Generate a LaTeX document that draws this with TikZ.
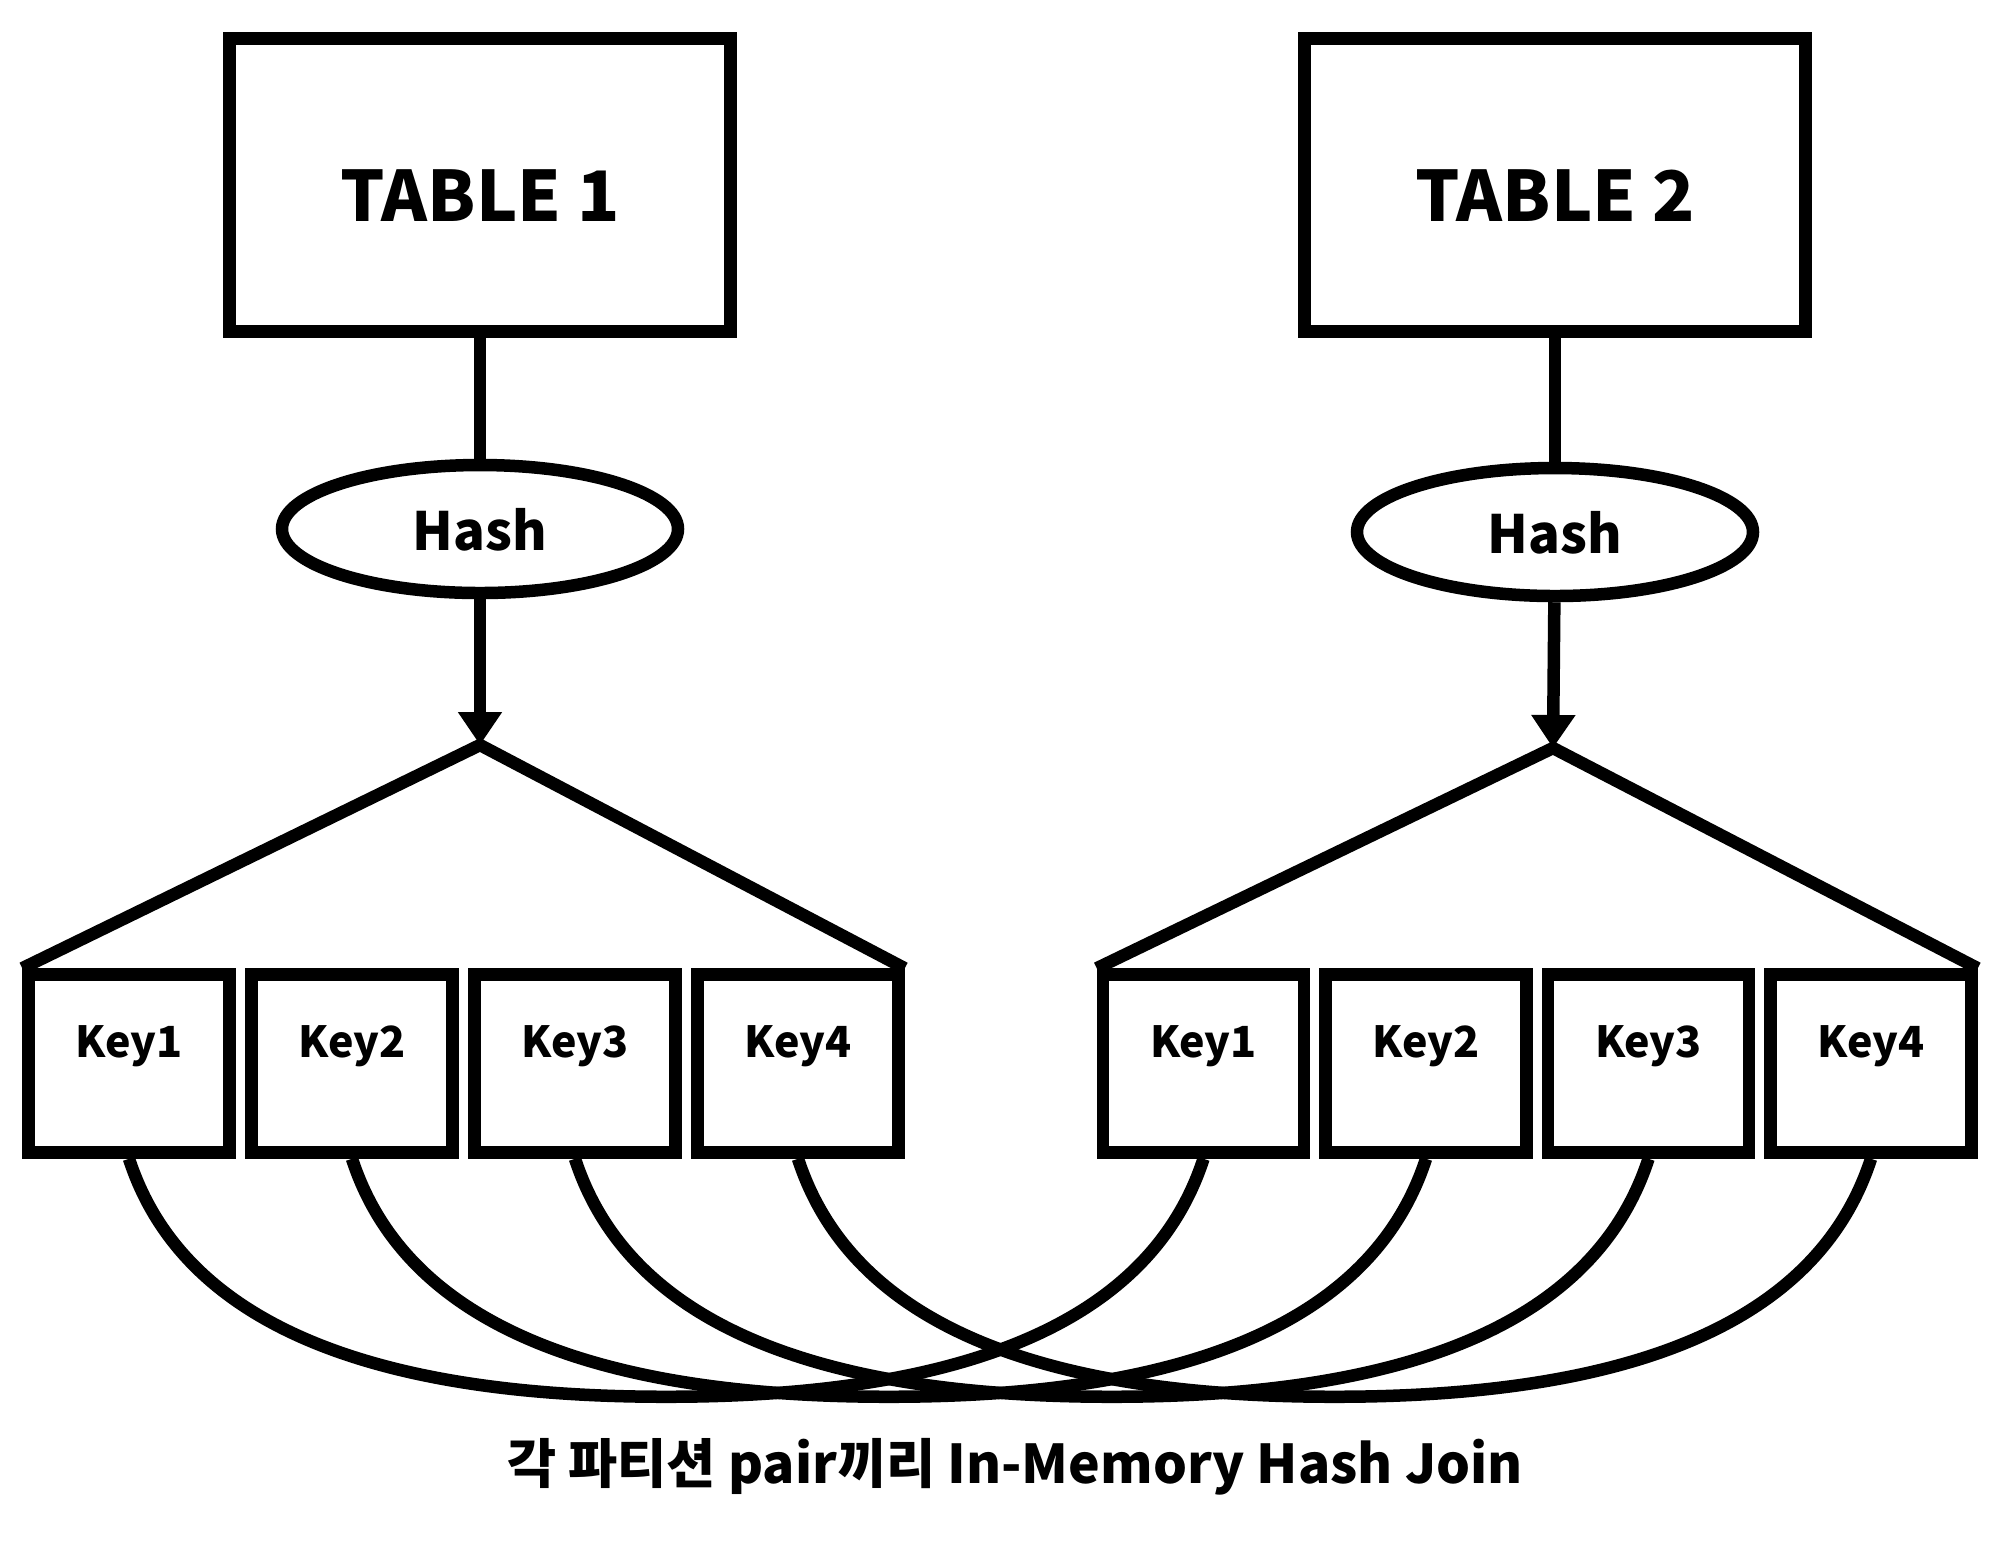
\documentclass[tikz,border=0pt]{standalone}
\usepackage{fontspec}
\setmainfont{Noto Sans CJK KR}
\usetikzlibrary{shapes.geometric, arrows.meta, calc}

\tikzset{
    tablebox/.style={draw, rectangle, line width=1.25mm, minimum width=5.01cm, minimum height=2.93cm, inner sep=0pt,
        font=\fontsize{19.8}{24}\selectfont\bfseries, text height=0.73cm, text depth=0cm},
    hashnode/.style={draw, ellipse, line width=1.25mm, minimum width=3.96cm, minimum height=1.28cm, inner sep=0pt,
        font=\fontsize{15}{18}\selectfont\bfseries, text height=0.42cm, text depth=0cm},
    keybox/.style={draw, rectangle, line width=1.25mm, minimum width=2.01cm, minimum height=1.78cm, inner sep=0pt,
        font=\fontsize{12.2}{15}\selectfont\bfseries, text height=0.32cm, text depth=0.45cm},
    link/.style={line width=1.25mm},
}

\begin{document}
\begin{tikzpicture}
    % the frame
    \useasboundingbox (0, 0) rectangle (20, -15.46);

    % the tables
    \node[tablebox] (table1) at (4.80, -1.85) {TABLE 1};
    \node[tablebox] (table2) at (15.55, -1.85) {TABLE 2};

    % the hashes
    \node[hashnode] (hash1) at (4.80, -5.29) {Hash};
    \node[hashnode] (hash2) at (15.55, -5.32) {Hash};

    \coordinate (apex1) at (4.80, -7.45);
    \coordinate (apex2) at (15.53, -7.48);

    % the partitions
    \foreach \i in {1,...,4} {
        \node[keybox] (left\i) at ({1.29+(\i-1)*2.23}, -10.635) {Key\i};
        \node[keybox] (right\i) at ({12.035+(\i-1)*2.225}, -10.635) {Key\i};
    };

    % arrows
    \draw[link] (table1) -- (hash1);
    \draw[link] (table2) -- (hash2);
    \draw[link, -{Triangle[length=3.3mm, width=4.2mm]}] (hash1) -- (apex1);
    \draw[link, -{Triangle[length=3.3mm, width=4.2mm]}] (hash2) -- (apex2);

    \draw[link] (left1.north west) -- (apex1) -- (left4.north east);
    \draw[link] (right1.north west) -- (apex2) -- (right4.north east);

    % the pairs
    \foreach \i in {1,...,4} {
        \coordinate (low\i) at ($(left\i.south)!0.5!(right\i.south) + (0, -2.38)$);
        \draw[link] (left\i.south) .. controls +(-72:1.6) and +(-3.2, 0) .. (low\i)
            .. controls +(3.2, 0) and +(-108:1.6) .. (right\i.south);
    };

    \node[font=\fontsize{15.2}{18}\selectfont\bfseries, anchor=base] (caption) at (10.15, -14.83) {각 파티션 pair끼리 In-Memory Hash Join};

\end{tikzpicture}
\end{document}
